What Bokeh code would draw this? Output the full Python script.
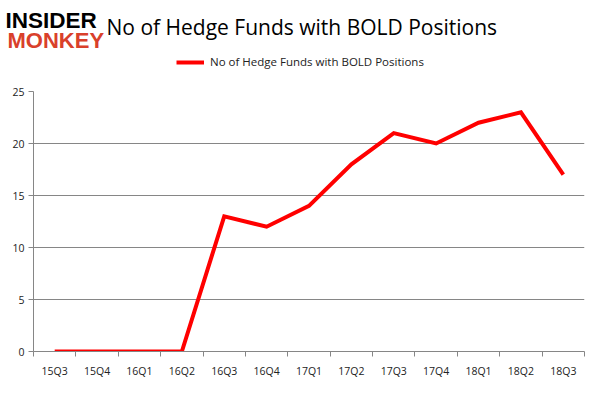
from bokeh.plotting import figure
from bokeh.layouts import column
from bokeh.models import Range1d, FixedTicker, Label, Legend, LegendItem
from bokeh.embed import file_html
from bokeh.resources import INLINE

categories = ["15Q3", "15Q4", "16Q1", "16Q2", "16Q3", "16Q4", "17Q1",
              "17Q2", "17Q3", "17Q4", "18Q1", "18Q2", "18Q3"]
values = [0, 0, 0, 0, 13, 12, 14, 18, 21, 20, 22, 23, 17]
y_ticks = [0, 5, 10, 15, 20, 25]
series_name = "No of Hedge Funds with BOLD Positions"
title_text = "No of Hedge Funds with BOLD Positions"

xs = list(range(len(categories)))

W = 585
HH = 75          # header height
MH = 305         # main chart height
L, T, B, R = 33, 16, 20, 1

# ---------------- header (title, logo, legend) ----------------
hdr = figure(width=W, height=HH, output_backend="svg", toolbar_location=None,
             x_range=Range1d(-0.5, len(categories) - 0.5), y_range=Range1d(100, 200),
             x_axis_location=None, y_axis_location=None,
             min_border=0, min_border_left=0, min_border_right=0,
             min_border_top=0, min_border_bottom=0)
hdr.frame_align = False
hdr.outline_line_color = None
hdr.xgrid.grid_line_color = None
hdr.ygrid.grid_line_color = None
# legend proxy: same series, outside the header's visible range
proxy = hdr.line(xs, values, line_color="#FF0000", line_width=4)

def hy(y):
    return HH - y + 8

legend = Legend(items=[LegendItem(label=series_name, renderers=[proxy])],
                location=(176, HH - 69), orientation="horizontal",
                label_text_font="Open Sans", label_text_font_size="11.5px",
                label_text_color="#222222", glyph_width=28, glyph_height=14,
                label_height=14, label_standoff=6,
                border_line_color=None, background_fill_alpha=0,
                padding=0, margin=0)
hdr.add_layout(legend, "center")

hdr.add_layout(Label(x=106, y=hy(34), x_units="screen", y_units="screen",
                     text=title_text, text_font="Open Sans", text_font_size="21px",
                     text_color="black", text_baseline="alphabetic"))
hdr.add_layout(Label(x=5, y=hy(28), x_units="screen", y_units="screen",
                     text="INSIDER", text_font="Liberation Sans", text_font_style="bold",
                     text_font_size="22.5px", text_color="black", text_baseline="alphabetic"))
hdr.add_layout(Label(x=7, y=hy(48), x_units="screen", y_units="screen",
                     text="MONKEY", text_font="Liberation Sans", text_font_style="bold",
                     text_font_size="22px", text_color="#D9402B", text_baseline="alphabetic"))

# ---------------- main chart ----------------
p = figure(width=W, height=MH, output_backend="svg", toolbar_location=None,
           x_range=Range1d(-0.5, len(categories) - 0.5), y_range=Range1d(0, 25),
           min_border_left=L, min_border_right=R, min_border_top=T,
           min_border_bottom=B)
p.frame_align = False
p.outline_line_color = None

p.line(xs, values, line_color="#FF0000", line_width=4, line_join="miter")

grid_col = "#868686"
p.xgrid.grid_line_color = None
p.ygrid.grid_line_color = grid_col

p.xaxis.ticker = FixedTicker(ticks=xs, minor_ticks=[i - 0.5 for i in range(len(categories) + 1)])
p.xaxis.major_label_overrides = {i: c for i, c in enumerate(categories)}
p.xaxis.major_tick_line_color = None
p.xaxis.major_tick_out = 0
p.xaxis.major_tick_in = 0
p.xaxis.minor_tick_line_color = grid_col
p.xaxis.minor_tick_out = 5
p.xaxis.minor_tick_in = 0
p.xaxis.axis_line_color = grid_col
p.xaxis.major_label_text_font = "Open Sans"
p.xaxis.major_label_text_font_size = "10.5px"
p.xaxis.major_label_text_color = "#222222"
p.xaxis.major_label_standoff = 7

p.yaxis.ticker = FixedTicker(ticks=y_ticks)
p.yaxis.minor_tick_line_color = None
p.yaxis.major_tick_line_color = grid_col
p.yaxis.major_tick_out = 5
p.yaxis.major_tick_in = 0
p.yaxis.axis_line_color = grid_col
p.yaxis.major_label_text_font = "Open Sans"
p.yaxis.major_label_text_font_size = "10.5px"
p.yaxis.major_label_text_color = "#222222"
p.yaxis.major_label_standoff = 4

layout = column(hdr, p, spacing=0)
open("out.html", "w").write(file_html(layout, INLINE))
